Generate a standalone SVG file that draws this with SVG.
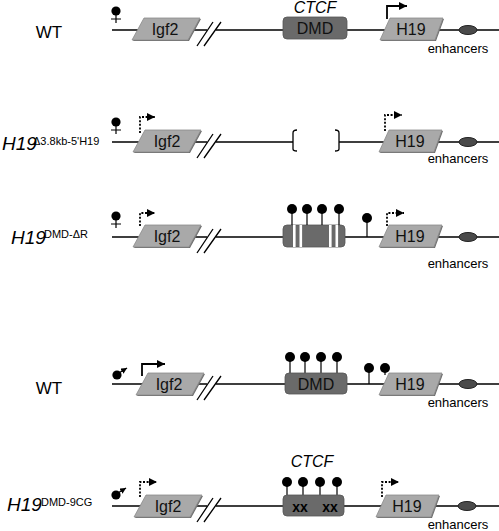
<svg xmlns="http://www.w3.org/2000/svg" width="499" height="531" viewBox="0 0 499 531">
<style>
.ln{stroke:#000;stroke-width:1.3;fill:none}
.gene{fill:#a9a9a9;stroke:#8a8a8a;stroke-width:0.8}
.shd{fill:#6e6e6e}
.dmd{fill:#6a6a6a;stroke:#555;stroke-width:0.8}
.t{font-family:"Liberation Sans",Arial,sans-serif;fill:#000}
.gt{font-size:16px;text-anchor:middle;fill:#111}
.enh{font-size:13px;text-anchor:middle}
.it{font-style:italic}
.lol{fill:#000}
.st{stroke:#000;stroke-width:1.2}
.sol{stroke:#000;stroke-width:1.8;fill:none}
.dot{stroke:#000;stroke-width:1.8;fill:none;stroke-dasharray:2 1.6}
.en{fill:#4a4a4a;stroke:#222;stroke-width:1}
</style>
<defs>
<path id="igf" d="M12,0 H68 L56,22 H0 Z"/>
<path id="h19" d="M10,0 H63 L55,22 H0 Z"/>
<marker id="ah" markerUnits="userSpaceOnUse" markerWidth="10" markerHeight="10" refX="8" refY="4" orient="auto"><path d="M0,0 L8,4 L0,8 Z" fill="#000"/></marker>
<marker id="mh" markerUnits="userSpaceOnUse" markerWidth="8" markerHeight="8" refX="6" refY="3" orient="auto"><path d="M0,0 L6,3 L0,6 Z" fill="#000"/></marker>
<g id="fem"><circle cx="0" cy="0" r="4.6" fill="#000"/><path d="M0,0 V12 M-5,8 H5" stroke="#000" stroke-width="1.2"/></g>
<g id="mal"><circle cx="0" cy="0" r="4.6" fill="#000"/><path d="M2,-2 L10,-7" stroke="#000" stroke-width="1.4" marker-end="url(#mh)"/></g>
</defs>

<g id="connectors">
<path class="ln" d="M112,30 H207 M216,30 H499"/>
<path class="ln" d="M197,46 L213,22 M204,46 L221,22"/>
<path class="ln" d="M112,142 H207 M216,142 H293 M339,142 H499"/>
<path class="ln" d="M197,158 L213,134 M204,158 L221,134"/>
<path class="ln" d="M112,237 H207 M216,237 H499"/>
<path class="ln" d="M197,253 L213,229 M204,253 L221,229"/>
<path class="ln" d="M112,384 H207 M216,384 H499"/>
<path class="ln" d="M197,400 L213,376 M204,400 L221,376"/>
<path class="ln" d="M112,506 H207 M216,506 H499"/>
<path class="ln" d="M197,522 L213,498 M204,522 L221,498"/>
</g>

<!-- Row 1 -->
<g id="row1-label"><text class="t" x="49" y="38" font-size="17" text-anchor="middle">WT</text></g>
<g id="row1-imprint"><use href="#fem" x="116" y="11"/></g>
<g id="row1-igf2"><use href="#igf" x="133" y="19" class="shd"/><use href="#igf" x="132" y="18" class="gene"/><text class="t gt" x="165" y="35">Igf2</text></g>
<g id="row1-dmd"><rect class="dmd" x="283" y="17" width="64" height="22" rx="4"/><text class="t gt" x="315" y="34">DMD</text><text class="t it" x="315" y="13" font-size="16" text-anchor="middle">CTCF</text></g>
<g id="row1-h19"><use href="#h19" x="381" y="19" class="shd"/><use href="#h19" x="380" y="18" class="gene"/><text class="t gt" x="411" y="35">H19</text><path class="sol" d="M387,19 V6 H407" marker-end="url(#ah)"/></g>
<g id="row1-enh"><ellipse class="en" cx="468" cy="30" rx="9" ry="4.5"/><text class="t enh" x="458" y="53">enhancers</text></g>

<!-- Row 2 -->
<g id="row2-label"><text class="t it" x="2" y="150" font-size="19">H19</text><text class="t" x="33" y="145" font-size="11">Δ3.8kb-5'H19</text></g>
<g id="row2-imprint"><use href="#fem" x="116" y="122"/></g>
<g id="row2-igf2"><use href="#igf" x="134" y="131" class="shd"/><use href="#igf" x="133" y="130" class="gene"/><text class="t gt" x="167" y="147">Igf2</text><path class="dot" d="M140,133 V117 H155" marker-end="url(#ah)"/></g>
<g id="row2-deletion"><path class="ln" d="M297,130 Q293,130 293,133 V149 Q293,151 297,151 M335,130 Q339,130 339,133 V149 Q339,151 335,151"/></g>
<g id="row2-h19"><use href="#h19" x="380" y="131" class="shd"/><use href="#h19" x="379" y="130" class="gene"/><text class="t gt" x="410" y="147">H19</text><path class="dot" d="M385,131 V115 H402" marker-end="url(#ah)"/></g>
<g id="row2-enh"><ellipse class="en" cx="468" cy="142" rx="9" ry="4.5"/><text class="t enh" x="458" y="163">enhancers</text></g>

<!-- Row 3 -->
<g id="row3-label"><text class="t it" x="11" y="244" font-size="19">H19</text><text class="t" x="44" y="238" font-size="11">DMD-ΔR</text></g>
<g id="row3-imprint"><use href="#fem" x="116" y="216"/></g>
<g id="row3-igf2"><use href="#igf" x="134" y="226" class="shd"/><use href="#igf" x="133" y="225" class="gene"/><text class="t gt" x="167" y="242">Igf2</text><path class="dot" d="M140,226 V213 H155" marker-end="url(#ah)"/></g>
<g id="row3-dmd"><rect class="dmd" x="283" y="225" width="62" height="22" rx="4"/>
<rect x="293" y="225" width="2.6" height="22" fill="#fff"/><rect x="299.5" y="225" width="2.6" height="22" fill="#fff"/><rect x="329" y="225" width="2.6" height="22" fill="#fff"/><rect x="335.5" y="225" width="2.6" height="22" fill="#fff"/>
<path class="st" d="M292,209 V225 M307,209 V225 M322,209 V225 M339,209 V225"/>
<circle class="lol" cx="292" cy="209" r="5"/><circle class="lol" cx="307" cy="209" r="5"/><circle class="lol" cx="322" cy="209" r="5"/><circle class="lol" cx="339" cy="209" r="5"/>
<path class="st" d="M367,218 V237"/><circle class="lol" cx="367" cy="218" r="5"/></g>
<g id="row3-h19"><use href="#h19" x="380" y="226" class="shd"/><use href="#h19" x="379" y="225" class="gene"/><text class="t gt" x="410" y="242">H19</text><path class="dot" d="M387,226 V213 H404" marker-end="url(#ah)"/></g>
<g id="row3-enh"><ellipse class="en" cx="468" cy="237" rx="9" ry="4.5"/><text class="t enh" x="458" y="268">enhancers</text></g>

<!-- Row 4 -->
<g id="row4-label"><text class="t" x="49" y="394" font-size="17" text-anchor="middle">WT</text></g>
<g id="row4-imprint"><use href="#mal" x="117" y="375"/></g>
<g id="row4-igf2"><use href="#igf" x="137" y="374" class="shd"/><use href="#igf" x="136" y="373" class="gene"/><text class="t gt" x="169" y="390">Igf2</text><path class="sol" d="M142,376 V364 H165" marker-end="url(#ah)"/></g>
<g id="row4-dmd">
<path class="st" d="M290,357 V373 M305,357 V373 M321,357 V373 M337,357 V373"/>
<rect class="dmd" x="285" y="373" width="62" height="21" rx="4"/><text class="t gt" x="316" y="390">DMD</text>
<circle class="lol" cx="290" cy="357" r="5"/><circle class="lol" cx="305" cy="357" r="5"/><circle class="lol" cx="321" cy="357" r="5"/><circle class="lol" cx="337" cy="357" r="5"/>
<path class="st" d="M369,368 V384 M385,368 V375"/><circle class="lol" cx="369" cy="368" r="5"/><circle class="lol" cx="385" cy="368" r="5"/></g>
<g id="row4-h19"><use href="#h19" x="380" y="374" class="shd"/><use href="#h19" x="379" y="373" class="gene"/><text class="t gt" x="410" y="390">H19</text></g>
<g id="row4-enh"><ellipse class="en" cx="468" cy="384" rx="9" ry="4.5"/><text class="t enh" x="458" y="407">enhancers</text></g>

<!-- Row 5 -->
<g id="row5-label"><text class="t it" x="7" y="511" font-size="19">H19</text><text class="t" x="41" y="506" font-size="11">DMD-9CG</text></g>
<g id="row5-imprint"><use href="#mal" x="116" y="495"/></g>
<g id="row5-igf2"><use href="#igf" x="135" y="496" class="shd"/><use href="#igf" x="134" y="495" class="gene"/><text class="t gt" x="168" y="512">Igf2</text><path class="dot" d="M140,497 V482 H157" marker-end="url(#ah)"/></g>
<g id="row5-dmd">
<path class="st" d="M287,482 V495 M303,482 V495 M320,482 V495 M337,482 V495"/>
<rect class="dmd" x="283" y="495" width="61" height="21" rx="4"/>
<text class="t" x="300" y="512" font-size="14" font-weight="bold" text-anchor="middle" fill="#111">xx</text><text class="t" x="330" y="512" font-size="14" font-weight="bold" text-anchor="middle" fill="#111">xx</text>
<circle class="lol" cx="287" cy="482" r="5"/><circle class="lol" cx="303" cy="482" r="5"/><circle class="lol" cx="320" cy="482" r="5"/><circle class="lol" cx="337" cy="482" r="5"/>
<text class="t it" x="312" y="467" font-size="16" text-anchor="middle">CTCF</text></g>
<g id="row5-h19"><use href="#h19" x="377" y="496" class="shd"/><use href="#h19" x="376" y="495" class="gene"/><text class="t gt" x="407" y="512">H19</text><path class="dot" d="M382,497 V482 H399" marker-end="url(#ah)"/></g>
<g id="row5-enh"><ellipse class="en" cx="467" cy="506" rx="9" ry="4.5"/><text class="t enh" x="458" y="529">enhancers</text></g>
</svg>
